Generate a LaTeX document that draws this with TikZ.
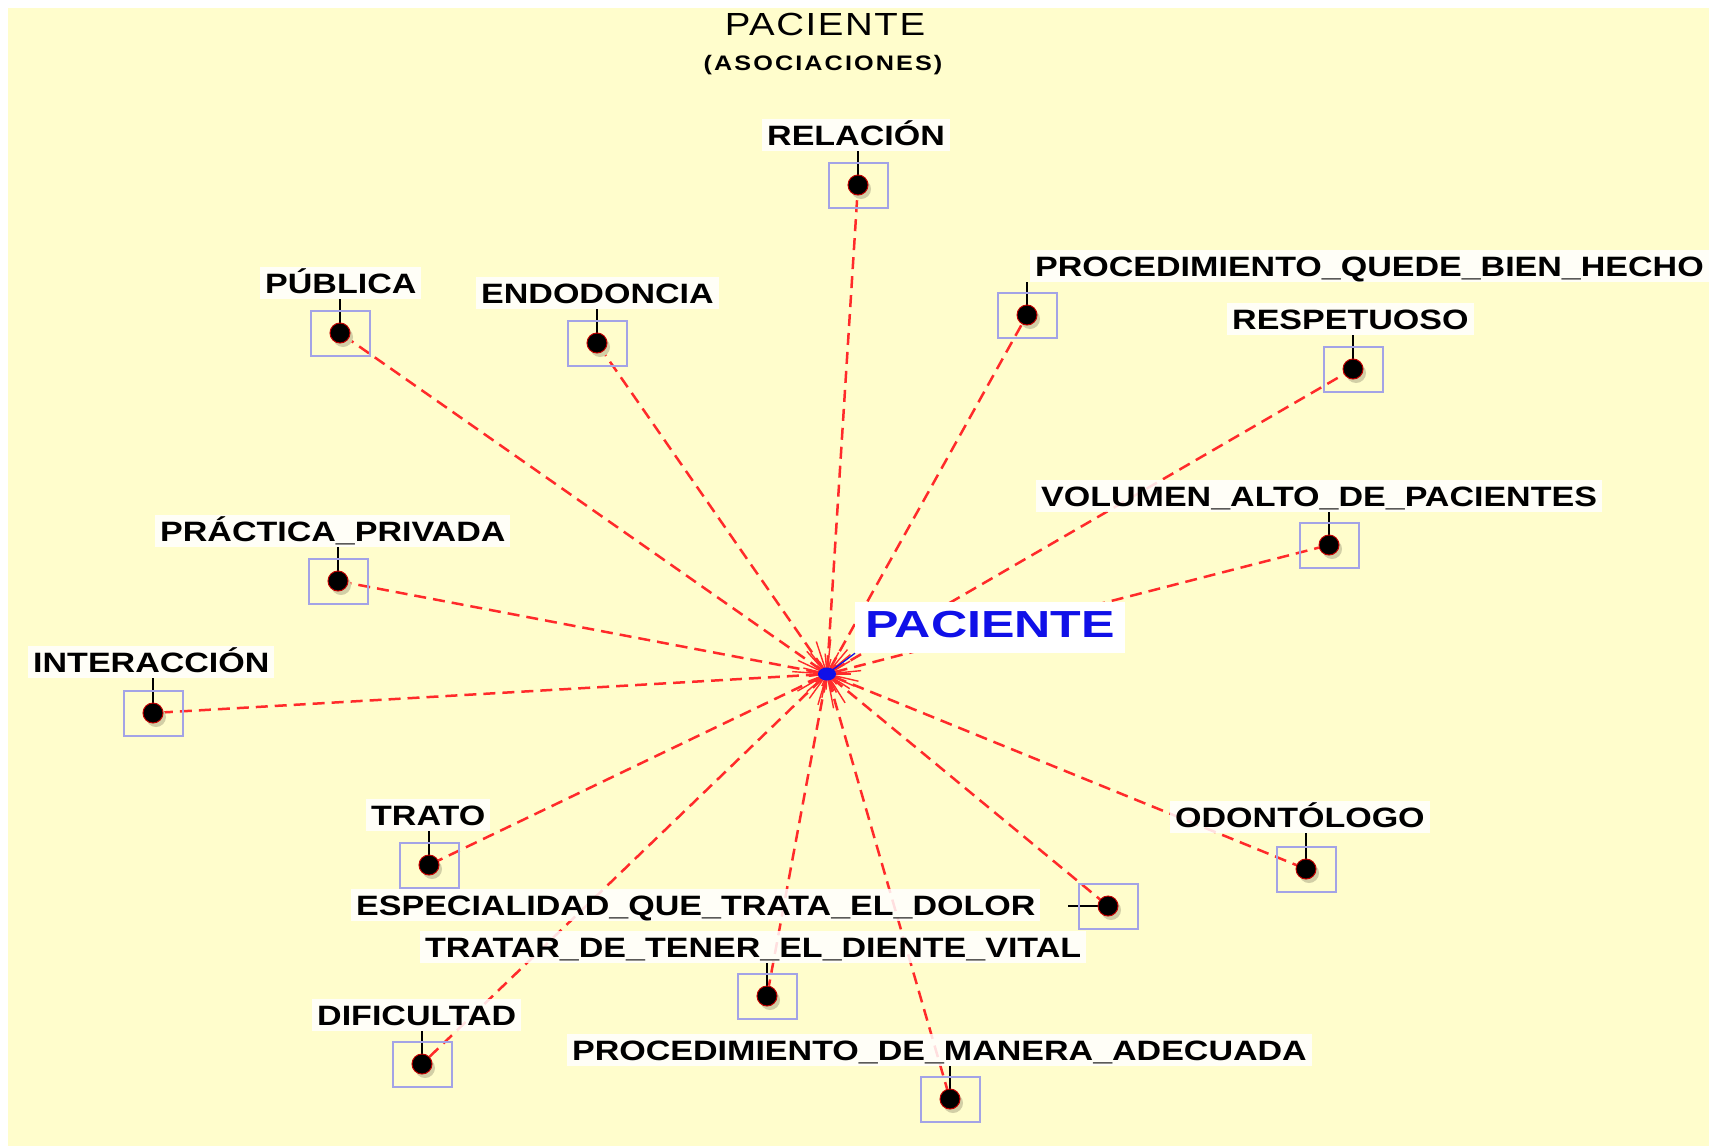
\documentclass[tikz,border=0pt]{standalone}
\usepackage{fontspec}
\setmainfont{Liberation Sans}
\newfontfamily\lblfont[FakeStretch=1.215]{Liberation Sans}
\newfontfamily\titfont[FakeStretch=1.2,LetterSpace=5]{Liberation Sans}
\newfontfamily\subfont[FakeStretch=1.2,LetterSpace=10]{Liberation Sans}
\newfontfamily\bigfont[FakeStretch=1.33]{Liberation Sans}
\usetikzlibrary{shapes.geometric}
\definecolor{bgy}{HTML}{FFFDCC}
\definecolor{lineRed}{HTML}{FF2A2A}
\definecolor{boxBlue}{HTML}{A3A3E6}
\definecolor{shadowC}{HTML}{D2CFA6}
\definecolor{pacBlue}{HTML}{1010E8}
\pgfdeclarelayer{back}
\pgfdeclarelayer{mid}
\pgfsetlayers{back,mid,main}
\begin{document}
\begin{tikzpicture}[x=1pt,y=-1pt,
  conn/.style={draw=lineRed, line width=2.5pt, dash pattern=on 12pt off 7pt},
  ray/.style={draw=lineRed, line width=1.4pt},
  dot/.style={circle, fill=black, draw=red!75!black, line width=1pt, minimum size=20pt, inner sep=0pt},
  dotshadow/.style={circle, fill=shadowC, minimum size=20pt, inner sep=0pt},
  box/.style={draw=boxBlue, line width=2pt, minimum width=59pt, minimum height=45pt, inner sep=0pt},
  lbl/.style={fill=white, fill opacity=0.85, text opacity=1, text height=20pt, text depth=0pt,
    inner xsep=5pt, inner ysep=6pt, font=\lblfont\bfseries\fontsize{28}{32}\selectfont, anchor=base west},
  tick/.style={draw=black, line width=2pt}
]
\useasboundingbox (0,0) rectangle (1709,1146);
\begin{pgfonlayer}{back}
\fill[white] (0,0) rectangle (1709,1146);
\fill[bgy] (8,8) rectangle (1709,1146);
\end{pgfonlayer}

% title
\node[font=\titfont\fontsize{32}{36}\selectfont, anchor=base, inner sep=0pt] (t1) at (825,35) {PACIENTE};
\node[font=\subfont\bfseries\fontsize{21}{24}\selectfont, anchor=base, inner sep=0pt] (t2) at (823,70) {(ASOCIACIONES)};

% labels
\node[lbl] (l1) at (762,145) {RELACIÓN\hspace{13pt}};
\node[lbl] (l2) at (260,293) {PÚBLICA\hspace{13pt}};
\node[lbl] (l3) at (476,303) {ENDODONCIA\hspace{13pt}};
\node[lbl] (l4) at (1030,276) {PROCEDIMIENTO\_QUEDE\_BIEN\_HECHO\hspace{13pt}};
\node[lbl] (l5) at (1227,329) {RESPETUOSO\hspace{13pt}};
\node[lbl] (l6) at (1036,506) {VOLUMEN\_ALTO\_DE\_PACIENTES\hspace{13pt}};
\node[lbl] (l7) at (1170,827) {ODONTÓLOGO\hspace{13pt}};
\node[lbl] (l8) at (351,915) {ESPECIALIDAD\_QUE\_TRATA\_EL\_DOLOR\hspace{13pt}};
\node[lbl] (l9) at (420,957) {TRATAR\_DE\_TENER\_EL\_DIENTE\_VITAL\hspace{13pt}};
\node[lbl] (l10) at (567,1060) {PROCEDIMIENTO\_DE\_MANERA\_ADECUADA\hspace{13pt}};
\node[lbl] (l11) at (312,1025) {DIFICULTAD\hspace{13pt}};
\node[lbl] (l12) at (366,825) {TRATO\hspace{13pt}};
\node[lbl] (l13) at (28,672) {INTERACCIÓN\hspace{13pt}};
\node[lbl] (l14) at (155,541) {PRÁCTICA\_PRIVADA\hspace{13pt}};

% boxes, shadows and dots
\foreach \n/\x/\y in {1/858/185, 2/340/333, 3/597/343, 4/1027/315, 5/1353/369, 6/1329/545,
  7/1306/869, 8/1108/906, 9/767/996, 10/950/1099, 11/422/1064, 12/429/865, 13/153/713, 14/338/581} {
  \node[box] (b\n) at (\x,\y) {};
  \node[dotshadow] (s\n) at (\x+3,\y+4) {};
  \node[dot] (d\n) at (\x,\y) {};
}

% centre
\node[ellipse, fill=pacBlue, minimum width=18pt, minimum height=13pt, inner sep=0pt] (c) at (827,674) {};
\node[fill=white, text=pacBlue, font=\bigfont\bfseries\fontsize{37.7}{40}\selectfont, text height=27pt, text depth=8pt,
  inner xsep=10pt, inner ysep=8pt, anchor=base west] (plbl) at (855,637) {PACIENTE\hspace{12pt}};
\coordinate (e8) at (1068,906);

\begin{pgfonlayer}{mid}
\foreach \n in {1,...,14} { \draw[conn] (c) -- (d\n); }
\foreach \i in {0,...,39} {
  \pgfmathsetmacro\ang{\i*9+4*sin(\i*77)}
  \pgfmathsetmacro\len{24+11*sin(\i*131)}
  \draw[ray] (c.center) -- ++(\ang:\len);
}
\foreach \n in {1,2,3,4,5,6,7,9,10,11,12,13,14} { \draw[tick] (l\n.south -| d\n) -- (d\n.center); }
\draw[tick] (e8) -- (d8.center);
\draw[pacBlue, line width=1.3pt] (c.center) -- (plbl.south west);
\end{pgfonlayer}
\end{tikzpicture}
\end{document}
